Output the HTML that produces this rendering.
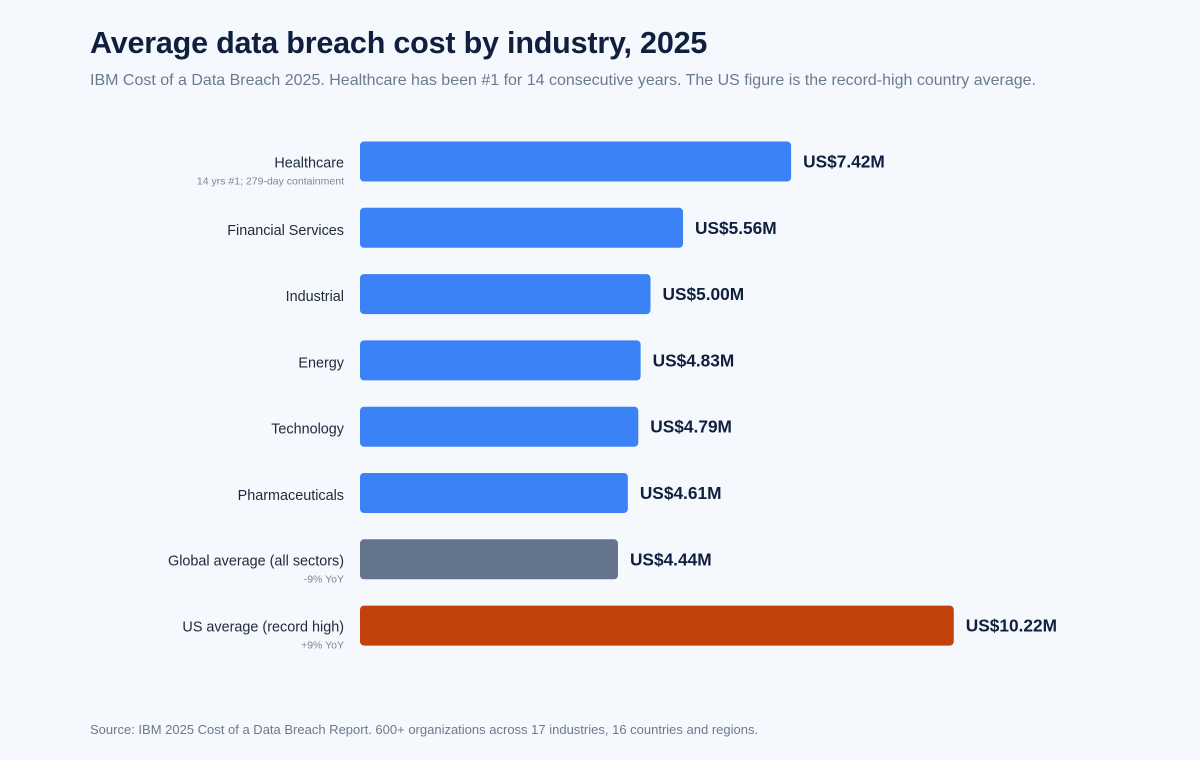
<!DOCTYPE html>
<html><head><meta charset="utf-8">
<style>
html,body{margin:0;padding:0;background:#f5f9fe;}
body{width:1200px;height:760px;overflow:hidden;font-family:"Liberation Sans",sans-serif;position:relative;}
h1{position:absolute;left:90px;top:26px;margin:0;font-size:30.5px;font-weight:700;color:#0f1f3d;letter-spacing:-0.2px;}
.sub{position:absolute;left:90px;top:72px;font-size:16px;color:#6b7a90;}
.src{position:absolute;left:90px;top:722px;font-size:13px;color:#6b7a90;}
svg{position:absolute;left:0;top:0;}
</style></head><body>
<h1>Average data breach cost by industry, 2025</h1>
<div class="sub">IBM Cost of a Data Breach 2025. Healthcare has been #1 for 14 consecutive years. The US figure is the record-high country average.</div>
<div class="src">Source: IBM 2025 Cost of a Data Breach Report. 600+ organizations across 17 industries, 16 countries and regions.</div>
<svg id="chart" width="1200" height="760"></svg>
<script>
const categories=["Healthcare","Financial Services","Industrial","Energy","Technology","Pharmaceuticals","Global average (all sectors)","US average (record high)"];
const values=[7.42,5.56,5.00,4.83,4.79,4.61,4.44,10.22];
const notes=["14 yrs #1; 279-day containment","","","","","","-9% YoY","+9% YoY"];
const kinds=["industry","industry","industry","industry","industry","industry","global","us"];
const colors={industry:"#3b82f6",global:"#64748b",us:"#c2410c"};
const NS="http://www.w3.org/2000/svg";
const svg=document.getElementById("chart");
const x0=360,pxPerM=58.1;
const xScale=v=>v*pxPerM;
const yCenter=i=>161.5+i*66.3;
const barH=40;
function mk(tag,attrs,text){const e=document.createElementNS(NS,tag);for(const k in attrs)e.setAttribute(k,attrs[k]);if(text!=null)e.textContent=text;svg.appendChild(e);return e;}
categories.forEach((c,i)=>{
  const cy=yCenter(i),w=xScale(values[i]);
  const r=mk("rect",{x:x0,y:cy-barH/2,width:w,height:barH,rx:4,fill:colors[kinds[i]]});
  
  
  const v=mk("text",{x:x0+w+12,y:cy+6,"font-size":17.3,"font-weight":700,fill:"#0f1f3d"},"US$"+values[i].toFixed(2)+"M");
  
  
  const hasNote=notes[i]!=="";
  const l=mk("text",{x:344,y:hasNote?cy+6:cy+7,"font-size":14.4,fill:"#1e293b","text-anchor":"end"},c);
  
  
  if(hasNote){
    const n=mk("text",{x:344,y:cy+23,"font-size":10.5,fill:"#7b8798","text-anchor":"end"},notes[i]);
    
    
  }
});
</script>
</body></html>
